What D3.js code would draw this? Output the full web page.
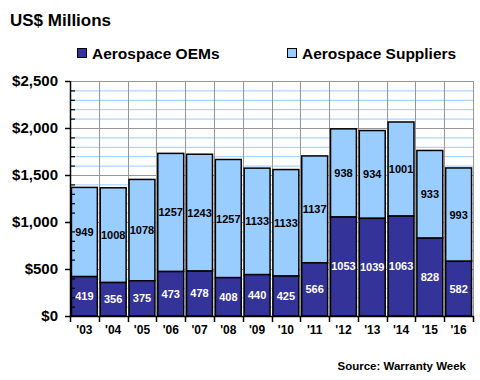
<!DOCTYPE html>
<html><head><meta charset="utf-8">
<script src="https://cdn.jsdelivr.net/npm/d3@7"></script>
<style>body{margin:0;background:#fff}svg{display:block;font-family:"Liberation Sans",Arial,sans-serif;font-weight:bold}</style>
</head><body><svg id="c" width="480" height="380"></svg>
<script>
const years = ["'03","'04","'05","'06","'07","'08","'09","'10","'11","'12","'13","'14","'15","'16"];
const oems = [419,356,375,473,478,408,440,425,566,1053,1039,1063,828,582];
const suppliers = [949,1008,1078,1257,1243,1257,1133,1133,1137,938,934,1001,933,993];
const yTicks = [0,500,1000,1500,2000,2500];
const seriesNames = ["Aerospace OEMs","Aerospace Suppliers"];
const colors = ["#333399","#99CCFF"];

const svg = d3.select("#c");
const L=70, R=473, T=81, B=316;
const x = d3.scaleBand().domain(years).range([L,R]).paddingInner(0.1).paddingOuter(0.05);
const step = (R-L)/years.length;
const y = d3.scaleLinear().domain([0,2500]).range([B,T]);
const minor = d3.range(100,2500,100).filter(v=>v%500!==0);

// minor gridlines
svg.append("g").selectAll("line").data(minor).join("line")
  .attr("x1",L).attr("x2",R).attr("y1",d=>y(d)+0.5).attr("y2",d=>y(d)+0.5)
  .attr("stroke","#99CCFF").attr("stroke-width",1);
// major gridlines
svg.append("g").selectAll("line").data(yTicks.slice(1)).join("line")
  .attr("x1",L).attr("x2",R).attr("y1",d=>y(d)+0.5).attr("y2",d=>y(d)+0.5)
  .attr("stroke","#969696").attr("stroke-width",1);
// vertical gridlines at boundaries
const bounds = d3.range(1,years.length+1).map(i=>L+i*step);
svg.append("g").selectAll("line").data(bounds).join("line")
  .attr("x1",d=>Math.round(d)+0.5).attr("x2",d=>Math.round(d)+0.5).attr("y1",T).attr("y2",B)
  .attr("stroke","#969696").attr("stroke-width",1);

// bars
const bw = x.bandwidth();
const g = svg.append("g");
years.forEach((yr,i)=>{
  const xx = x(yr);
  g.append("rect").attr("x",xx).attr("width",bw)
    .attr("y",y(oems[i]+suppliers[i])).attr("height",y(oems[i])-y(oems[i]+suppliers[i]))
    .attr("fill",colors[1]).attr("stroke","#000").attr("stroke-width",1.5);
  g.append("rect").attr("x",xx).attr("width",bw)
    .attr("y",y(oems[i])).attr("height",y(0)-y(oems[i]))
    .attr("fill",colors[0]).attr("stroke","#000").attr("stroke-width",1.5);
  g.append("text").attr("x",xx+bw/2).attr("y",y(oems[i]/2)).attr("dy","0.36em")
    .attr("text-anchor","middle").attr("font-size",11).attr("fill","#fff").text(oems[i]);
  g.append("text").attr("x",xx+bw/2).attr("y",y(oems[i]+suppliers[i]/2)).attr("dy","0.36em")
    .attr("text-anchor","middle").attr("font-size",11).attr("fill","#000").text(suppliers[i]);
});

// y axis
const ya = svg.append("g");
ya.append("line").attr("x1",L+0.5).attr("x2",L+0.5).attr("y1",T).attr("y2",B+1).attr("stroke","#000").attr("stroke-width",1.5);
ya.selectAll(".mj").data(yTicks).join("line").attr("class","mj")
  .attr("x1",L-5).attr("x2",L).attr("y1",d=>y(d)+0.5).attr("y2",d=>y(d)+0.5).attr("stroke","#000").attr("stroke-width",1.5);
ya.selectAll(".mn").data(minor).join("line").attr("class","mn")
  .attr("x1",L).attr("x2",L+5).attr("y1",d=>y(d)+0.5).attr("y2",d=>y(d)+0.5).attr("stroke","#000").attr("stroke-width",1.2);
ya.selectAll("text").data(yTicks).join("text")
  .attr("x",58).attr("y",d=>y(d)).attr("dy","0.36em").attr("text-anchor","end")
  .attr("font-size",15).attr("fill","#000").text(d=>d3.format("$,")(d));

// x axis
const xa = svg.append("g");
xa.append("line").attr("x1",L).attr("x2",R+1).attr("y1",B+0.5).attr("y2",B+0.5).attr("stroke","#000").attr("stroke-width",1.5);
xa.selectAll("line.t").data([L,...bounds]).join("line").attr("class","t")
  .attr("x1",d=>Math.round(d)+0.5).attr("x2",d=>Math.round(d)+0.5).attr("y1",B).attr("y2",B+6).attr("stroke","#000").attr("stroke-width",1.5);
xa.selectAll("text").data(years).join("text")
  .attr("x",d=>x(d)+bw/2).attr("y",330).attr("dy","0.36em").attr("text-anchor","middle")
  .attr("font-size",12).attr("fill","#000").text(d=>d);

// title
svg.append("text").attr("x",10).attr("y",26).attr("font-size",17).attr("fill","#000").text("US$ Millions");

// legend
const lx=[77,287];
seriesNames.forEach((n,i)=>{
  svg.append("rect").attr("x",lx[i]+0.5).attr("y",48.5).attr("width",9).attr("height",9)
    .attr("fill",colors[i]).attr("stroke","#000").attr("stroke-width",1);
  svg.append("text").attr("x",lx[i]+15).attr("y",53).attr("dy","0.36em").attr("font-size",15.5).attr("fill","#000").text(n);
});

// source
svg.append("text").attr("x",466).attr("y",366).attr("dy","0.36em").attr("text-anchor","end")
  .attr("font-size",11.5).attr("fill","#000").text("Source: Warranty Week");
</script></body></html>
